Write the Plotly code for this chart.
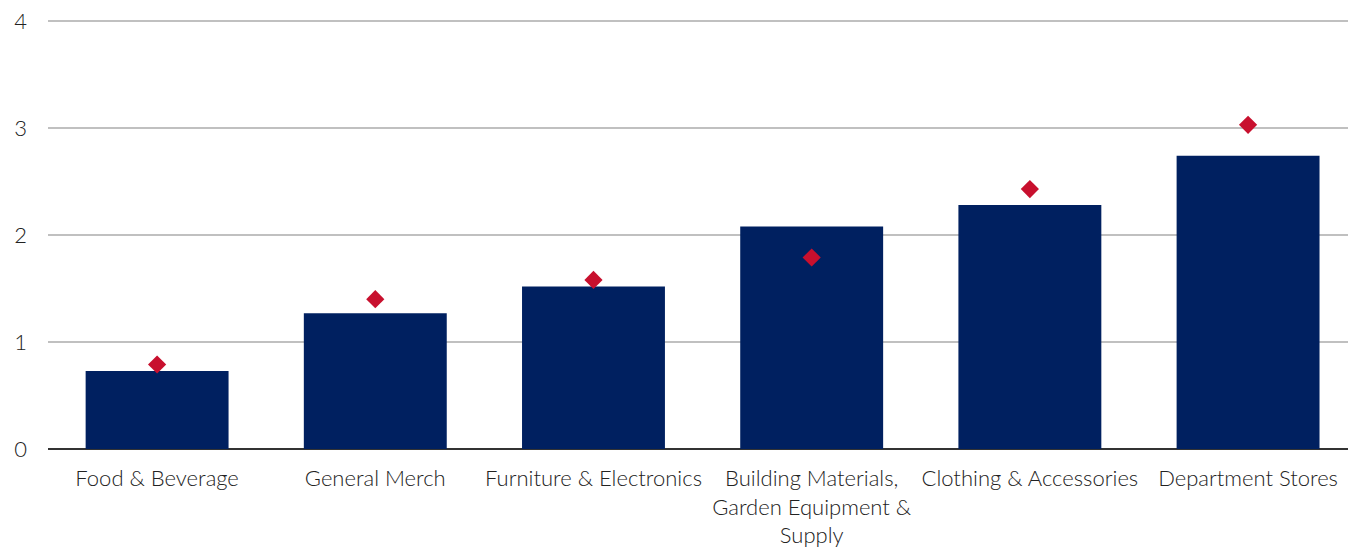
import plotly.graph_objects as go

categories = ["Food & Beverage", "General Merch", "Furniture & Electronics",
              "Building Materials,<br>Garden Equipment &<br>Supply",
              "Clothing & Accessories", "Department Stores"]
bar_values = [0.73, 1.27, 1.52, 2.08, 2.28, 2.74]
marker_values = [0.79, 1.40, 1.58, 1.79, 2.43, 3.03]
y_ticks = [0, 1, 2, 3, 4]

fig = go.Figure()
fig.add_trace(go.Bar(x=categories, y=bar_values, marker_color="#002060",
                     marker_line_width=0, showlegend=False))
fig.add_trace(go.Scatter(x=categories, y=marker_values, mode="markers",
                         marker=dict(symbol="diamond", size=14, color="#C8102E"),
                         showlegend=False, cliponaxis=False))

fig.update_layout(
    width=1348, height=548,
    margin=dict(l=48, r=0, t=20, b=99),
    paper_bgcolor="white", plot_bgcolor="white",
    bargap=0.345,
    font=dict(family="Lato", size=22, color="#222222", weight=300),
    xaxis=dict(showgrid=False, ticks="", showline=False, range=[-0.5, 5.458],
               tickfont=dict(size=22, weight=300), tickangle=0,
               ticklabelstandoff=14),
    yaxis=dict(range=[0, 4.01], tickvals=y_ticks, showgrid=True,
               gridcolor="#c0c0c0", gridwidth=2, zeroline=True,
               zerolinecolor="#333333", zerolinewidth=2,
               ticks="", ticklabelstandoff=20, tickfont=dict(size=22, weight=300)),
)
fig.write_html("out.html")
